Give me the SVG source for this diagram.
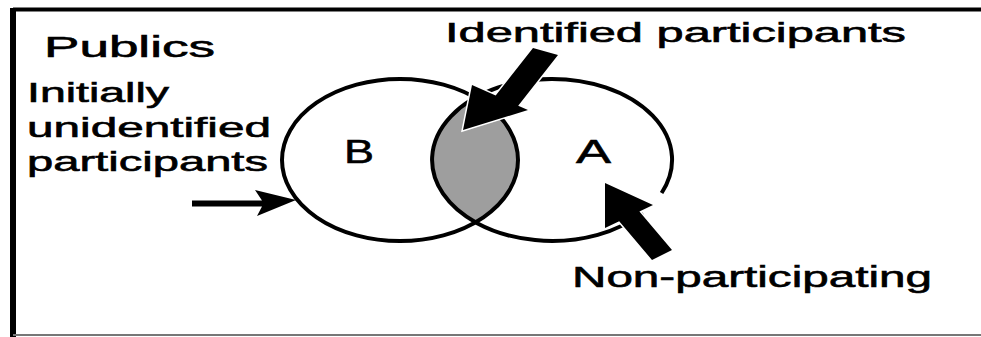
<svg xmlns="http://www.w3.org/2000/svg" width="981" height="337" viewBox="0 0 981 337">
<style>
  text { font-family: "Liberation Sans", Arial, sans-serif; fill: #000; stroke: #000; stroke-width: 0.6; }
  .circ { fill: none; stroke: #000; stroke-width: 4; }
  .arrow { fill: #000; stroke: #fff; stroke-width: 3; paint-order: stroke; stroke-linejoin: miter; }
</style>
<rect x="0" y="0" width="981" height="337" fill="#fff"/>
<g id="frame">
  <line x1="13" y1="9.5" x2="981" y2="9.5" stroke="#000" stroke-width="4"/>
  <line x1="13" y1="8" x2="13" y2="337" stroke="#000" stroke-width="6"/>
  <line x1="13" y1="335" x2="981" y2="335" stroke="#777" stroke-width="2"/>
</g>
<g id="lens">
  <path d="M475.4,97.7 A118,81 0 0 1 475.4,222.3 A120,81 0 0 1 475.4,97.7 Z" fill="#9e9e9e"/>
</g>
<g id="setB">
  <ellipse class="circ" cx="400" cy="160" rx="118" ry="81"/>
  <text x="344" y="163" font-size="34" textLength="30" lengthAdjust="spacingAndGlyphs">B</text>
</g>
<g id="setA">
  <path class="circ" d="M661.6,193 A120,81 0 1 0 642.7,213"/>
  <text x="576" y="163" font-size="34" textLength="35" lengthAdjust="spacingAndGlyphs">A</text>
</g>
<g id="connectors">
  <path class="arrow" d="M463,130 L472,85 L495.7,95.5 L533,48 L558,55 L518.2,105.7 L528,110 Z"/>
  <path class="arrow" d="M605,183 L653,205 L639.4,211.5 L672,250 L652,260 L619.2,221.2 L605,228 Z"/>
  <path d="M192,200.5 L262,200.5 L255,190 L296,200 L257,216 L262,206.5 L192,206.5 Z" fill="#000"/>
</g>
<g id="publics">
  <text x="44" y="57" font-size="30" textLength="171" lengthAdjust="spacingAndGlyphs">Publics</text>
</g>
<g id="identified">
  <text x="445" y="42" font-size="28" textLength="461" lengthAdjust="spacingAndGlyphs">Identified participants</text>
</g>
<g id="unidentified">
  <text x="27" y="102" font-size="28" textLength="142" lengthAdjust="spacingAndGlyphs">Initially</text>
  <text x="27" y="137" font-size="28" textLength="244" lengthAdjust="spacingAndGlyphs">unidentified</text>
  <text x="27" y="171" font-size="28" textLength="241" lengthAdjust="spacingAndGlyphs">participants</text>
</g>
<g id="nonparticipating">
  <text x="572" y="287" font-size="30" textLength="360" lengthAdjust="spacingAndGlyphs">Non-participating</text>
</g>
</svg>
